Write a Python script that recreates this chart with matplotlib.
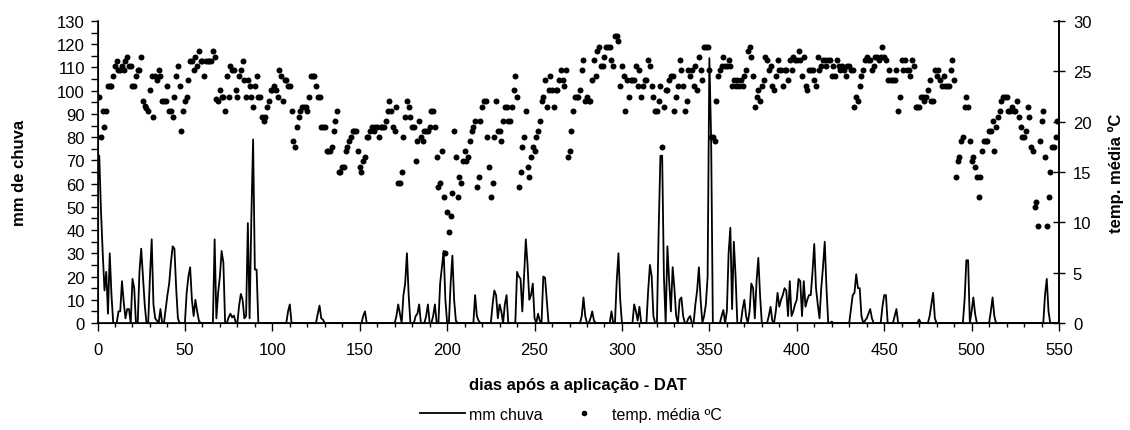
import numpy as np
import matplotlib
matplotlib.use("Agg")
import matplotlib.pyplot as plt
from matplotlib.lines import Line2D
from matplotlib.ticker import MultipleLocator

plt.rcParams['font.family'] = ['Liberation Sans', 'DejaVu Sans']

# ---------------- data ----------------
# daily mean temperature (ºC), days 1..549
temp_media = [
    22.5, 18.5, 21.1, 19.5, 21.1, 23.5, 23.5, 23.5, 24.5, 25.5,
    26.0, 25.1, 25.1, 25.5, 25.1, 26.0, 26.4, 25.5, 25.5, 23.5,
    23.5, 24.5, 25.1, 25.1, 26.4, 22.1, 21.6, 21.4, 21.1, 23.1,
    24.5, 20.5, 24.5, 24.1, 25.1, 24.5, 22.1, 22.1, 22.1, 23.5,
    21.1, 21.1, 20.5, 22.5, 24.5, 25.5, 23.5, 19.1, 21.1, 22.1,
    22.5, 24.1, 26.0, 26.0, 25.1, 26.4, 25.5, 27.0, 26.0, 26.0,
    24.5, 26.0, 26.0, 26.0, 26.0, 27.0, 26.4, 22.3, 22.1, 23.1,
    22.5, 22.5, 21.1, 24.5, 22.5, 25.5, 25.1, 25.1, 23.1, 22.5,
    24.5, 25.1, 26.0, 24.1, 22.5, 24.1, 23.5, 22.5, 21.5, 23.5,
    24.5, 22.5, 22.5, 20.5, 20.1, 20.5, 21.5, 22.1, 23.1, 23.1,
    23.5, 23.1, 22.5, 25.1, 24.5, 22.1, 24.1, 24.1, 23.5, 23.5,
    21.1, 18.1, 17.5, 19.5, 20.5, 21.1, 21.5, 21.5, 21.5, 21.1,
    22.5, 24.5, 24.5, 24.5, 23.5, 22.5, 22.5, 19.5, 19.5, 19.5,
    17.1, 17.1, 17.1, 17.5, 19.1, 20.1, 21.1, 15.0, 15.0, 15.5,
    15.5, 17.1, 17.5, 18.1, 18.5, 19.1, 19.1, 19.1, 17.1, 15.5,
    15.0, 16.1, 16.5, 18.5, 18.5, 19.1, 19.5, 19.1, 19.5, 19.5,
    18.5, 19.5, 19.5, 19.5, 20.1, 21.1, 22.1, 21.1, 19.5, 19.1,
    21.5, 13.9, 13.9, 15.0, 18.5, 20.5, 22.1, 21.5, 20.5, 19.5,
    19.5, 16.1, 18.1, 20.1, 18.5, 18.1, 19.1, 19.1, 19.1, 19.5,
    21.1, 21.1, 19.5, 16.5, 13.5, 13.9, 17.1, 12.5, 7.0, 11.0,
    9.0, 10.6, 12.9, 19.1, 16.5, 12.5, 14.5, 13.9, 16.1, 17.1,
    16.1, 16.5, 18.1, 19.1, 19.5, 20.1, 13.5, 14.5, 20.1, 21.5,
    22.1, 22.1, 18.5, 15.5, 12.5, 13.9, 18.5, 22.1, 19.1, 19.1,
    18.1, 20.1, 21.5, 21.5, 20.1, 20.1, 21.5, 23.1, 24.5, 22.5,
    13.5, 15.0, 17.5, 18.5, 21.1, 15.5, 14.5, 16.5, 17.5, 17.1,
    18.5, 19.1, 20.1, 22.1, 22.5, 24.1, 21.5, 23.1, 24.5, 23.1,
    21.5, 23.1, 23.1, 24.1, 25.1, 24.1, 23.5, 25.1, 16.5, 17.1,
    19.1, 21.1, 22.5, 22.5, 22.5, 23.1, 25.1, 26.1, 22.1, 22.5,
    22.1, 22.1, 24.1, 26.1, 24.5, 27.0, 27.4, 25.5, 25.5, 26.4,
    27.4, 27.4, 27.4, 26.1, 25.5, 28.5, 28.5, 28.0, 23.5, 25.5,
    24.5, 21.1, 24.1, 22.5, 24.1, 24.1, 24.1, 25.5, 23.5, 25.1,
    22.5, 23.5, 24.1, 24.1, 26.1, 25.5, 23.5, 22.5, 21.1, 21.1,
    22.1, 23.5, 17.5, 21.5, 23.1, 23.1, 24.1, 24.5, 24.5, 21.1,
    22.5, 23.5, 26.1, 25.1, 23.5, 21.1, 22.1, 25.1, 24.5, 25.1,
    23.5, 25.5, 23.1, 26.4, 25.1, 24.1, 27.4, 27.4, 27.4, 25.1,
    18.5, 18.5, 18.1, 22.1, 24.5, 25.1, 25.5, 26.4, 25.5, 25.5,
    26.1, 25.5, 23.5, 24.1, 23.5, 24.1, 23.5, 24.1, 23.5, 24.5,
    25.1, 27.0, 27.4, 26.4, 24.5, 21.5, 22.5, 23.1, 22.1, 23.5,
    24.1, 26.4, 26.1, 25.1, 25.5, 23.5, 23.1, 24.5, 26.1, 25.1,
    25.1, 23.5, 25.1, 25.1, 24.1, 26.1, 25.1, 26.4, 26.1, 26.1,
    27.0, 26.1, 24.5, 26.4, 23.5, 23.1, 25.1, 25.1, 25.1, 24.1,
    23.5, 26.4, 25.1, 25.5, 26.1, 26.1, 25.5, 26.1, 26.1, 24.5,
    25.5, 24.5, 26.1, 25.5, 25.1, 25.5, 25.1, 24.5, 25.5, 25.5,
    25.1, 25.1, 21.5, 22.5, 22.1, 23.5, 24.5, 25.1, 26.1, 26.4,
    26.1, 26.1, 25.1, 25.5, 26.4, 26.4, 26.1, 26.4, 27.4, 26.4,
    26.1, 24.1, 25.1, 24.1, 24.1, 24.1, 25.1, 21.1, 22.5, 26.1,
    25.1, 26.1, 25.1, 25.1, 24.5, 26.1, 25.5, 21.5, 21.5, 21.5,
    22.5, 22.5, 22.1, 22.5, 23.1, 24.1, 22.1, 22.1, 25.1, 24.5,
    25.1, 24.1, 23.5, 24.5, 23.5, 23.5, 23.5, 25.1, 26.1, 24.1,
    14.5, 16.1, 16.5, 18.1, 18.5, 21.5, 22.5, 21.5, 18.1, 16.1,
    16.5, 15.5, 14.5, 12.5, 14.5, 17.1, 18.1, 18.1, 18.1, 19.1,
    19.1, 20.1, 17.1, 19.5, 20.5, 21.1, 22.1, 22.5, 22.5, 22.5,
    21.1, 21.1, 21.5, 21.1, 21.1, 22.1, 20.5, 19.5, 18.5, 18.5,
    19.1, 21.5, 20.5, 17.5, 17.1, 11.5, 12.0, 9.6, 18.1, 20.1,
    21.1, 16.5, 9.6, 12.5, 15.0, 17.5, 17.5, 18.5, 20.1,
]
temp_primeiro_dia = 1

# rainy days (DAT) and rainfall (mm); all other days had 0 mm
dias_chuva = [
    1, 2, 3, 4, 5, 6, 7, 8,
    12, 13, 14, 15, 16, 17, 18, 20, 21,
    24, 25, 26, 27, 30, 31, 32, 33, 34, 36,
    39, 40, 41, 42, 43, 44, 45, 46,
    51, 52, 53, 54, 55, 56, 57, 58,
    67, 68, 69, 70, 71, 72,
    75, 76, 77, 78, 79,
    81, 82, 83, 84, 85, 86, 87, 88, 89, 90, 91,
    109, 110, 126, 127, 128, 129, 152, 153,
    171, 172, 173, 175, 176, 177, 178,
    182, 183, 184, 188, 189, 192, 193,
    196, 197, 198, 199, 202, 203, 204, 205,
    216, 217, 218,
    226, 227, 228, 229, 230, 231, 233, 234,
    240, 241, 242, 243, 244, 245, 246, 247, 248, 249, 250,
    252, 253, 255, 256, 257,
    277, 278, 279, 282, 283, 284, 294,
    297, 298, 299, 307, 308, 309, 310,
    315, 316, 317, 318,
    321, 322, 323, 324, 326, 327, 328, 329, 330, 331,
    333, 334, 335, 338, 339,
    342, 343, 344, 345, 347, 348, 349, 350, 351,
    357, 358, 360, 361, 362, 363, 364, 365,
    369, 370, 371, 373, 374, 375, 376, 377, 378, 379,
    384, 385, 386,
    388, 389, 390, 391, 392, 393, 394, 395, 396, 397, 398, 399, 400,
    401, 402, 403, 404, 405, 406, 407, 408, 409, 410, 411, 412, 413,
    414, 415, 416, 417, 420,
    431, 432, 433, 434, 435, 436, 437, 439, 440, 441, 442, 443,
    449, 450, 451, 456, 457, 470,
    476, 477, 478, 479,
    496, 497, 498, 500, 501, 502,
    511, 512, 513, 542, 543, 544,
]
chuva_mm = [
    72, 48, 30, 14, 22, 4, 30, 12,
    5, 5, 18, 9, 2, 6, 6, 19, 15,
    22, 32, 20, 8, 20, 36, 8, 2, 1, 6,
    6, 12, 17, 26, 33, 32, 15, 2,
    13, 20, 24, 10, 3, 10, 5, 1,
    36, 2, 13, 20, 31, 26,
    2.4, 4, 2.4, 3.2, 0.5,
    7.5, 12.5, 10, 2, 3, 43, 2, 45, 79, 23, 23,
    5, 8, 4, 7.5, 2, 1.4, 3, 5,
    3, 8, 4, 12, 17, 30, 12,
    3, 4, 8, 3, 8, 3, 8,
    17, 24, 31, 10, 17, 29, 10, 1,
    12, 3, 1,
    8, 14, 12, 2, 8, 5, 8, 12,
    22, 20, 19, 5, 20, 36, 25, 10, 12, 17, 2,
    4, 1, 20, 19.5, 10,
    3, 11, 3, 2, 5, 1, 5,
    18, 30, 10, 8, 5, 1, 7,
    14, 25, 20, 3,
    40, 72, 72, 20, 33, 18, 5, 24, 15, 3,
    10, 11, 3, 2, 3,
    8, 14, 24, 10, 3, 8, 20, 114, 80,
    3, 5.6, 5, 30, 41, 6, 35, 20,
    6, 10, 3, 5, 17, 15, 2, 18, 28, 12,
    3, 7, 1,
    5, 13, 7, 10, 12, 15, 14, 3, 18, 3, 5, 8, 10,
    19, 18, 3, 18, 7, 10, 12, 12, 22, 34, 15, 8, 2,
    15, 24, 35, 15, 0.6,
    6, 12, 13, 21, 15, 15, 3, 1, 2, 4, 6, 2,
    7, 12, 12, 3, 6, 1.5,
    3, 8, 13, 2,
    10, 27, 27, 5, 11, 4,
    5, 11, 3, 12, 19, 5,
]
chuva_ultimo_dia = 549

# --------------- build series ---------------
temp_dias = np.arange(temp_primeiro_dia, temp_primeiro_dia + len(temp_media))
chuva_dias = np.arange(1, chuva_ultimo_dia + 1)
chuva_serie = np.zeros(len(chuva_dias))
for d, v in zip(dias_chuva, chuva_mm):
    chuva_serie[d - 1] = v

# --------------- figure ---------------
fig = plt.figure(figsize=(11.30, 4.31), dpi=100)
ax = fig.add_axes([97.5 / 1130, 1 - 324 / 431, (1059 - 97.5) / 1130, (324 - 22) / 431])
ax.plot(chuva_dias, chuva_serie, color='black', lw=1.3, zorder=2)
ax.set_xlim(0, 550)
ax.set_ylim(0, 130)
ax.xaxis.set_major_locator(MultipleLocator(50))
ax.xaxis.set_minor_locator(MultipleLocator(10))
ax.yaxis.set_major_locator(MultipleLocator(10))
ax.yaxis.set_minor_locator(MultipleLocator(5))
ax.tick_params(axis='x', which='major', direction='out', length=6, width=1, labelsize=12, pad=8)
ax.tick_params(axis='x', which='minor', direction='out', length=3, width=1)
ax.tick_params(axis='y', which='both', direction='out', length=5, width=1, labelsize=12, pad=4)
ax.spines['top'].set_visible(False)
for s in ('left', 'bottom', 'right'):
    ax.spines[s].set_linewidth(1.2)
ax.set_ylabel('mm de chuva', fontsize=12, fontweight='bold', labelpad=22)
ax.set_xlabel('dias após a aplicação - DAT', fontsize=12, fontweight='bold', labelpad=14)

ax2 = ax.twinx()
ax2.plot(temp_dias, temp_media, 'o', color='black', ms=4.3, mec='black', mew=0, zorder=3)
ax2.set_ylim(0, 30)
ax2.yaxis.set_major_locator(MultipleLocator(5))
ax2.tick_params(axis='y', direction='inout', length=8, width=1, labelsize=12, pad=6)
ax2.spines['top'].set_visible(False)
ax2.spines['right'].set_linewidth(1.2)
ax2.set_ylabel('temp. média ºC', fontsize=12, fontweight='bold', labelpad=12)

handles = [Line2D([0], [0], color='black', lw=1.3),
           Line2D([0], [0], marker='o', color='black', lw=0, ms=3)]
fig.legend(handles, ['mm chuva', 'temp. média ºC'], loc='lower center',
           bbox_to_anchor=(0.505, -0.015), ncol=2, frameon=False, fontsize=11.5,
           handlelength=2.8, columnspacing=1.2, handletextpad=0.3)

fig.savefig('out.png', dpi=100)
